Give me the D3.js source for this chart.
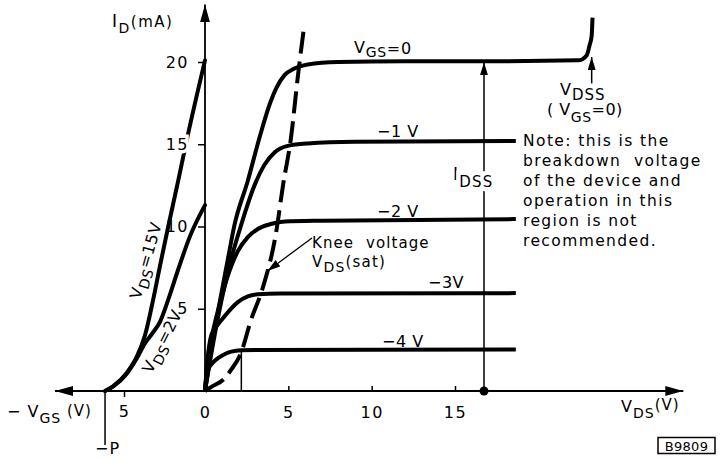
<!DOCTYPE html>
<html>
<head>
<meta charset="utf-8">
<script src="https://cdn.jsdelivr.net/npm/d3@7"></script>
<style>
  body { margin: 0; background: #fff; }
  svg { display: block; font-family: "DejaVu Sans", sans-serif; }
  text { fill: #000; white-space: pre; }
</style>
</head>
<body>
<svg id="chart" width="725" height="458"></svg>
<script>
// output characteristics, [VDS (V), ID (mA)]
let curveVgs0 = [[0, 0], [0.45, 2.9], [0.9, 5.5], [1.35, 7.9], [1.77, 10.1], [2.56, 12.75], [3.27, 15.4], [3.87, 17.4], [4.27, 18.4], [4.77, 19.2], [5.36, 19.6], [6.16, 19.85], [8, 20.0], [12, 20.05], [18, 20.05], [22.4, 20.1], [22.9, 20.4], [23.07, 21.0], [23.2, 21.6], [23.25, 22.7]];
let curveVgs1 = [[0, 0], [0.5, 2.95], [1.0, 5.55], [1.55, 7.95], [2.17, 10.1], [2.97, 12.5], [3.57, 13.75], [4.17, 14.5], [4.96, 14.9], [6.16, 15.05], [9, 15.15], [18.65, 15.2]];
let curveVgs2 = [[0, 0], [0.2, 1.8], [0.4, 3.2], [0.78, 4.9], [1.37, 7.0], [1.97, 8.5], [2.57, 9.35], [3.17, 9.85], [3.95, 10.15], [4.8, 10.3], [7, 10.35], [18.65, 10.45]];
let curveVgs3 = [[0, 0], [0.12, 1.6], [0.38, 3.4], [0.75, 4.0], [1.18, 4.55], [1.97, 5.4], [2.57, 5.75], [3.17, 5.88], [4.5, 5.93], [18.65, 5.95]];
let curveVgs4 = [[0, 0], [0.06, 0.7], [0.18, 1.28], [0.45, 1.7], [0.78, 2.0], [1.2, 2.25], [1.58, 2.39], [2.18, 2.48], [3, 2.5], [18.65, 2.52]];
let outputCurves = [curveVgs0, curveVgs1, curveVgs2, curveVgs3, curveVgs4];

// knee voltage locus VDS(sat)
let kneeLocus = [[0, 0], [0.36, 0.24], [1.2, 0.79], [1.56, 1.28], [2.16, 2.31], [2.76, 4.32], [3.48, 6.32], [4.26, 9.6], [4.68, 12.5], [5.16, 15.4], [5.58, 19.2], [5.94, 22.1]];

// transfer characteristics, [-VGS (V), ID (mA)]
let transferVds15 = [[6.17, 0], [5.66, 0.3], [4.83, 1.1], [4.2, 2.1], [3.7, 3.4], [3.19, 5.6], [2.78, 7.6], [2.27, 10.0], [1.65, 12.8], [1.05, 15.6], [0, 20.1]];
let transferVds2 = [[6.17, 0], [5.66, 0.28], [4.83, 1.05], [4.2, 2.0], [3.7, 2.9], [3.29, 3.45], [2.78, 4.2], [2.27, 5.55], [1.65, 7.4], [0.93, 9.4], [0, 11.3]];

let idTicks = [5, 10, 15, 20];
let vdsTicks = [0, 5, 10, 15];
let vgsTicks = [5];
let pinchOff = 6.17;
let idss = 20.1, idssAt = 16.74;
let vdss = 23.2;
let kneeRect = 2.18;
let noteLines = ["Note: this is the", "breakdown  voltage", "of the device and", "operation in this", "region is not", "recommended."];

let svg = d3.select("#chart");

let x = d3.scaleLinear().domain([0, 15]).range([205, 455]);
let xl = d3.scaleLinear().domain([0, 5]).range([205, 124]);
let y = d3.scaleLinear().domain([0, 20]).range([391, 62]);

let defs = svg.append("defs");
function arrowMarker(id, len, half) {
    defs.append("marker")
        .attr("id", id)
        .attr("markerUnits", "userSpaceOnUse")
        .attr("viewBox", `0 ${-half} ${len} ${half * 2}`)
        .attr("refX", len).attr("refY", 0)
        .attr("markerWidth", len).attr("markerHeight", half * 2)
        .attr("orient", "auto")
        .append("path")
        .attr("d", `M0,${-half}L${len},0L0,${half}Z`)
        .attr("fill", "#000");
}
arrowMarker("axisArrow", 18, 5);
arrowMarker("smallArrow", 13, 4);

let plot = svg.append("g");

let lineVds = d3.line().x(d => x(d[0])).y(d => y(d[1])).curve(d3.curveMonotoneX);
let lineVgs = d3.line().x(d => xl(d[0])).y(d => y(d[1])).curve(d3.curveMonotoneX);

// knee rectangle side at -4 V
plot.append("line")
    .attr("x1", x(kneeRect)).attr("x2", x(kneeRect))
    .attr("y1", y(0)).attr("y2", y(curveVgs4[7][1]))
    .attr("stroke", "#000").attr("stroke-width", 1.5);

plot.selectAll(".out")
    .data(outputCurves)
    .enter()
    .append("path")
    .attr("d", lineVds)
    .attr("fill", "none")
    .attr("stroke", "#000")
    .attr("stroke-width", 4)
    .attr("stroke-linejoin", "round");

plot.append("path")
    .attr("d", lineVds(kneeLocus))
    .attr("fill", "none")
    .attr("stroke", "#000")
    .attr("stroke-width", 4)
    .attr("stroke-dasharray", "22,8");

plot.selectAll(".tr")
    .data([transferVds15, transferVds2])
    .enter()
    .append("path")
    .attr("d", lineVgs)
    .attr("fill", "none")
    .attr("stroke", "#000")
    .attr("stroke-width", 4)
    .attr("stroke-linecap", "round");

// IDSS arrow with dot
plot.append("line")
    .attr("x1", x(idssAt)).attr("x2", x(idssAt))
    .attr("y1", y(0)).attr("y2", y(idss) + 2)
    .attr("stroke", "#000").attr("stroke-width", 1.5)
    .attr("marker-end", "url(#smallArrow)");
plot.append("circle")
    .attr("cx", x(idssAt)).attr("cy", y(0))
    .attr("r", 4.5).attr("fill", "#000");

// VDSS arrow
plot.append("line")
    .attr("x1", x(vdss)).attr("x2", x(vdss))
    .attr("y1", y(18.7)).attr("y2", y(20.3))
    .attr("stroke", "#000").attr("stroke-width", 1.5)
    .attr("marker-end", "url(#smallArrow)");

// knee voltage leader
plot.append("line")
    .attr("x1", x(6.42)).attr("y1", y(9.3))
    .attr("x2", x(3.75)).attr("y2", y(7.3))
    .attr("stroke", "#000").attr("stroke-width", 1.3)
    .attr("marker-end", "url(#smallArrow)");

// -P line
plot.append("line")
    .attr("x1", xl(pinchOff)).attr("x2", xl(pinchOff))
    .attr("y1", y(0)).attr("y2", y(0) + 54)
    .attr("stroke", "#000").attr("stroke-width", 1.5);

// text helper: parts = [text, baseline offset, size]
function label(px, py, parts, opts) {
    opts = opts || {};
    let t = svg.append("text")
        .attr("x", px).attr("y", py)
        .attr("font-size", opts.size || 16)
        .attr("text-anchor", opts.anchor || "start")
        .attr("letter-spacing", opts.spacing || 0.5);
    if (opts.rotate) t.attr("transform", `rotate(${opts.rotate},${px},${py})`);
    if (opts.halo) t.attr("stroke", "#fff").attr("stroke-width", opts.halo).attr("paint-order", "stroke");
    let shift = 0;
    parts.forEach(p => {
        t.append("tspan")
            .attr("dy", (p[1] || 0) - shift)
            .attr("font-size", p[2] || opts.size || 16)
            .text(p[0]);
        shift = p[1] || 0;
    });
    return t;
}

// axes ticks
let fmt = d3.format("d");
let yAx = d3.axisLeft(y).tickValues(idTicks).tickFormat(fmt).tickSize(7).tickPadding(9);
let gy = svg.append("g").attr("transform", `translate(${x(0)},0)`).call(yAx);
let xAx = d3.axisBottom(x).tickValues(vdsTicks).tickFormat(fmt).tickSize(-5).tickPadding(15.5);
let gx = svg.append("g").attr("transform", `translate(0,${y(0)})`).call(xAx);
let xlAx = d3.axisBottom(xl).tickValues(vgsTicks).tickFormat(fmt).tickSize(6).tickPadding(9);
let gxl = svg.append("g").attr("transform", `translate(0,${y(0)})`).call(xlAx);
[gy, gx, gxl].forEach(g => {
    g.select(".domain").remove();
    g.selectAll(".tick line").attr("stroke", "#000").attr("stroke-width", 1.5);
    g.selectAll(".tick text")
        .attr("font-size", 16)
        .attr("font-family", "DejaVu Sans")
        .attr("letter-spacing", 1.5)
        .attr("fill", "#000");
});
gy.selectAll(".tick text")
    .filter(d => d === 15)
    .attr("stroke", "#fff").attr("stroke-width", 7).attr("paint-order", "stroke");

// axis lines with arrows
svg.append("line")
    .attr("x1", x(0)).attr("x2", x(0))
    .attr("y1", y(0)).attr("y2", y(23.5))
    .attr("stroke", "#000").attr("stroke-width", 1.8)
    .attr("marker-end", "url(#axisArrow)");
svg.append("line")
    .attr("x1", x(0)).attr("x2", x(28.7))
    .attr("y1", y(0)).attr("y2", y(0))
    .attr("stroke", "#000").attr("stroke-width", 1.8)
    .attr("marker-end", "url(#axisArrow)");
svg.append("line")
    .attr("x1", x(0)).attr("x2", xl(9.26))
    .attr("y1", y(0)).attr("y2", y(0))
    .attr("stroke", "#000").attr("stroke-width", 1.8)
    .attr("marker-end", "url(#axisArrow)");

// axis titles
label(112, 27, [["I", 0, 17], ["D", 6, 14], ["(mA)", 0, 15]], { spacing: 1.5 });
label(7, 417, [["− V", 0, 16], ["GS", 6, 14], [" (V)", -1, 15]], { spacing: 1 });
label(621, 412, [["V", 0, 16], ["DS", 6, 14], ["(V)", -2, 15]], { spacing: 1 });
label(95, 454, [["−P", 0, 16]], { spacing: 1 });

// curve labels
label(354, 53, [["V", 0, 16], ["GS", 4, 14], ["=0", 1, 16]], { spacing: 0.7 });
label(377, 137, [["−1 V", 0, 16]]);
label(377, 217, [["−2 V", 0, 16]]);
label(428, 288, [["−3V", 0, 16]]);
label(382, 347, [["−4 V", 0, 16]]);
label(453, 180, [["I", 0, 17], ["DSS", 7, 15]], { halo: 9, spacing: 1.2 });
label(560, 95, [["V", 0, 16], ["DSS", 5, 15]], { spacing: 1 });
label(547, 115, [["( V", 0, 16], ["GS", 7, 14], ["=0)", 0, 16]], { spacing: 0.5 });
label(312, 248, [["Knee  voltage", 0, 15]], { spacing: 1.1 });
label(312, 267, [["V", 0, 15], ["DS", 5, 14], ["(sat)", 0, 15]], { spacing: 1.2 });
label(151, 262, [["V", 0, 16], ["DS", 5, 14], ["=15V", 0, 16]], { anchor: "middle", rotate: -74, spacing: 0.5 });
label(167, 344, [["V", 0, 16], ["DS", 5, 14], ["=2V", 0, 16]], { anchor: "middle", rotate: -63, spacing: 0.5 });

noteLines.forEach((s, i) => {
    label(523, 146 + i * 20, [[s, 0, 15.5]], { spacing: 1.4 });
});

// figure code
svg.append("rect")
    .attr("x", 658).attr("y", 437.5)
    .attr("width", 57).attr("height", 16)
    .attr("fill", "none").attr("stroke", "#000").attr("stroke-width", 1.5);
label(686.5, 450.5, [["B9809", 0, 13]], { anchor: "middle", spacing: 0.3 });
</script>
</body>
</html>
